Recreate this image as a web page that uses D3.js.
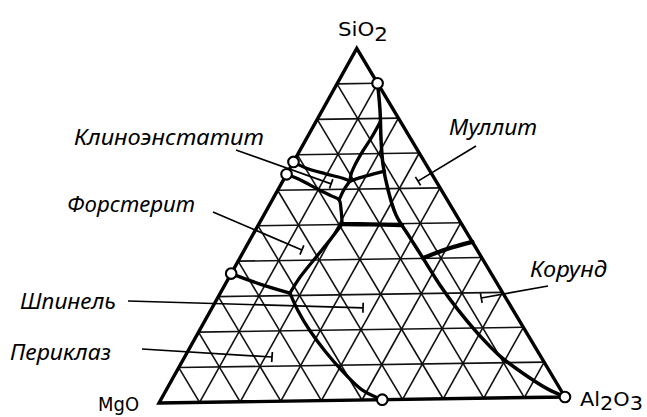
<!DOCTYPE html>
<html>
<head>
<meta charset="utf-8">
<script src="https://cdn.jsdelivr.net/npm/d3@7"></script>
<style>
  html, body { margin: 0; padding: 0; background: #fff; }
  svg { display: block; }
</style>
</head>
<body>
<svg id="chart" width="647" height="417"></svg>
<script>
// MgO – Al2O3 – SiO2 phase diagram (liquidus field boundaries).
// Every composition is written as [MgO, Al2O3, SiO2] in wt.%.

const components = ["MgO", "Al2O3", "SiO2"];
const gridTicks = [10, 20, 30, 40, 50, 60, 70, 80, 90];

// Invariant / compound points marked by open circles
const invariantPoints = [
  [0, 10, 90],
  [32, 0, 68],
  [35.5, 0, 64.5],
  [63.5, 0, 36.5],
  [45, 55, 0],
  [0, 100, 0]
];

// Field boundaries
const mulliteBoundary = [
  [0, 10, 90], [3.3, 14.3, 82.4], [7.4, 18.7, 73.9], [10.6, 22.7, 66.7],
  [13, 27.4, 59.6], [14.7, 32.8, 52.5], [14.6, 39.5, 45.9], [14.4, 46, 39.6],
  [14.2, 53.4, 32.4], [13.4, 61.4, 25.2], [12, 69.7, 18.3], [9.9, 78.2, 11.9],
  [6.5, 87, 6.5], [3, 94.7, 2.3], [0, 100, 0]
];
const silicaBranch = [
  [5, 16, 79], [9.6, 16, 74.4], [13.8, 15.7, 70.5], [17.4, 15.7, 66.9],
  [19.7, 16, 64.3], [21, 16.7, 62.3]
];
const enstatiteUpper = [
  [32, 0, 68], [30, 3.7, 66.3], [26, 9.5, 64.5], [22.5, 14.3, 63.2], [21, 16.7, 62.3]
];
const junctionEast = [
  [21, 16.7, 62.3], [16.3, 20, 63.7], [11.1, 23.9, 65]
];
const junctionSouth = [
  [21, 16.7, 62.3], [23.8, 16.4, 59.8], [26.4, 16.6, 57]
];
const enstatiteLower = [
  [35.5, 0, 64.5], [33, 4.1, 62.9], [30, 9.9, 60.1], [27.6, 14.3, 58.1],
  [26.4, 16.6, 57], [27.4, 18.5, 54.1], [29.2, 20.7, 50.1]
];
const cordieriteBase = [
  [29.2, 20.7, 50.1], [22.4, 27.7, 49.9], [14.7, 35.7, 49.6]
];
const forsteriteSpinel = [
  [29.2, 20.7, 50.1], [34.5, 19.9, 45.6], [40.4, 18.8, 40.8], [47.2, 17.6, 35.2], [52, 17.3, 30.7]
];
const forsteritePericlase = [
  [63.5, 0, 36.5], [58, 8.6, 33.4], [52, 17.3, 30.7]
];
const periclaseSpinel = [
  [52, 17.3, 30.7], [52.6, 21.8, 25.6], [52.6, 27.5, 19.9], [51.9, 34, 14.1],
  [50.5, 41.4, 8.1], [48.5, 48.6, 2.9], [45, 55, 0]
];
const mulliteCorundum = [
  [14.4, 45.5, 40.1], [7.2, 50.2, 42.6], [0, 55.5, 44.5]
];

// Primary phase fields and the composition each leader line points at
const fieldNames = ["Клиноэнстатит", "Форстерит", "Муллит", "Корунд", "Шпинель", "Периклаз"];
const fieldTargets = [
  [26, 12.4, 61.6], [42.8, 14.3, 42.9], [4.4, 33.6, 62],
  [6, 65.5, 28.5], [36.3, 37.5, 26.2], [65.7, 21.7, 12.6]
];

// ---- layout ----
const svg = d3.select("#chart");
const side = 406;
const triH = side * Math.sqrt(3) / 2;
const origin = [159, 403];          // MgO corner
const tilt = -0.85 * Math.PI / 180; // slight tilt of the whole triangle
const cosT = Math.cos(tilt), sinT = Math.sin(tilt);

const xScale = d3.scaleLinear().domain([0, 100]).range([0, side]);
const yScale = d3.scaleLinear().domain([0, 100]).range([0, -triH]);

function project(d) {
  const lx = xScale(d[1] + d[2] / 2);
  const ly = yScale(d[2]);
  return [origin[0] + lx * cosT - ly * sinT, origin[1] + lx * sinT + ly * cosT];
}

const smooth = d3.line()
  .x(d => project(d)[0])
  .y(d => project(d)[1])
  .curve(d3.curveCatmullRom.alpha(0.5));
const straight = d3.line()
  .x(d => project(d)[0])
  .y(d => project(d)[1]);

// ---- grid ----
const gridSegs = [];
gridTicks.forEach(t => {
  gridSegs.push([[100 - t, 0, t], [0, 100 - t, t]]);   // constant SiO2
  gridSegs.push([[100 - t, t, 0], [0, t, 100 - t]]);   // constant Al2O3
  gridSegs.push([[t, 100 - t, 0], [t, 0, 100 - t]]);   // constant MgO
});
svg.append("g")
  .attr("stroke", "#111").attr("stroke-width", 1.6).attr("fill", "none")
  .selectAll("path").data(gridSegs).join("path")
  .attr("d", straight);

// ---- triangle frame ----
svg.append("path")
  .attr("d", straight([[100, 0, 0], [0, 100, 0], [0, 0, 100]]) + "Z")
  .attr("fill", "none").attr("stroke", "#000").attr("stroke-width", 3.4)
  .attr("stroke-linejoin", "miter");

// ---- field boundaries ----
const boundaries = [
  { pts: mulliteBoundary, w: 3.5 },
  { pts: silicaBranch, w: 3.3 },
  { pts: enstatiteUpper, w: 3.3 },
  { pts: junctionEast, w: 3.3 },
  { pts: junctionSouth, w: 3.3 },
  { pts: enstatiteLower, w: 3.3 },
  { pts: cordieriteBase, w: 4.3 },
  { pts: forsteriteSpinel, w: 3.3 },
  { pts: forsteritePericlase, w: 3.5 },
  { pts: periclaseSpinel, w: 3.3 },
  { pts: mulliteCorundum, w: 4.2 }
];
svg.append("g").attr("fill", "none").attr("stroke", "#000")
  .attr("stroke-linecap", "round").attr("stroke-linejoin", "round")
  .selectAll("path").data(boundaries).join("path")
  .attr("d", d => smooth(d.pts))
  .attr("stroke-width", d => d.w);

// ---- open circles ----
svg.append("g").selectAll("circle").data(invariantPoints).join("circle")
  .attr("cx", d => project(d)[0]).attr("cy", d => project(d)[1])
  .attr("r", 5.3).attr("fill", "#fff").attr("stroke", "#000").attr("stroke-width", 2.1);

// ---- field labels with leader lines ----
const labelLayout = [
  { x: 74, y: 145, w: 190, from: [236, 150] },
  { x: 67, y: 212, w: 128, from: [213, 212] },
  { x: 449, y: 135, w: 88, from: [476, 146] },
  { x: 530, y: 277, w: 77, from: [548, 286] },
  { x: 20, y: 309, w: 96, from: [128, 301] },
  { x: 10, y: 360, w: 101, from: [142, 349] }
];
const labelFont = "'Noto Sans', 'DejaVu Sans', sans-serif";
const lg = svg.append("g");
fieldNames.forEach((name, i) => {
  const L = labelLayout[i];
  lg.append("text")
    .attr("x", L.x).attr("y", L.y)
    .attr("font-family", labelFont).attr("font-style", "italic")
    .attr("font-size", 22)
    .attr("textLength", L.w).attr("lengthAdjust", "spacingAndGlyphs")
    .attr("fill", "#000")
    .text(name);
  const end = project(fieldTargets[i]);
  const dx = end[0] - L.from[0], dy = end[1] - L.from[1];
  const len = Math.hypot(dx, dy);
  const nx = -dy / len, ny = dx / len;
  lg.append("line")
    .attr("x1", L.from[0]).attr("y1", L.from[1]).attr("x2", end[0]).attr("y2", end[1])
    .attr("stroke", "#000").attr("stroke-width", 1.7);
  lg.append("line")
    .attr("x1", end[0] - nx * 5).attr("y1", end[1] - ny * 5)
    .attr("x2", end[0] + nx * 5).attr("y2", end[1] + ny * 5)
    .attr("stroke", "#000").attr("stroke-width", 1.7);
});

// ---- corner labels ----
const chemFont = "'DejaVu Sans Condensed', 'DejaVu Sans', sans-serif";
function chemLabel(x, y, size, width, subShift, parts) {
  const t = svg.append("text").attr("x", x).attr("y", y)
    .attr("font-family", chemFont)
    .attr("font-size", size).attr("fill", "#000")
    .attr("textLength", width).attr("lengthAdjust", "spacingAndGlyphs");
  let shift = 0;
  parts.forEach(p => {
    const s = t.append("tspan").text(p.t);
    const want = p.sub ? subShift : 0;
    if (want !== shift) { s.attr("dy", want - shift); shift = want; }
  });
  return t;
}
chemLabel(338, 36, 20, 50, 5, [{ t: "SiO" }, { t: "2", sub: true }]);
chemLabel(98, 411, 19, 41, 0, [{ t: "MgO" }]);
chemLabel(580, 406, 20, 63, 4, [{ t: "Al" }, { t: "2", sub: true }, { t: "O" }, { t: "3", sub: true }]);
</script>
</body>
</html>
